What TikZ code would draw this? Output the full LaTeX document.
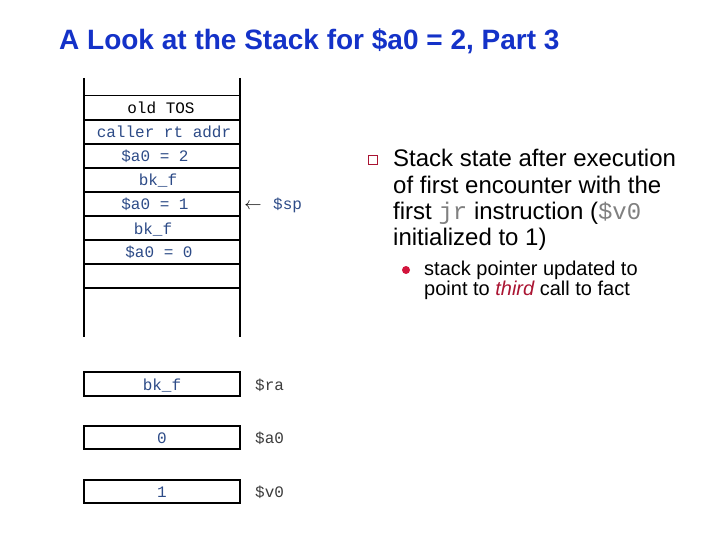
\documentclass[tikz,border=0pt]{standalone}
\usepackage{fontspec}
\setmainfont{Liberation Sans}
\setmonofont{Liberation Mono}
\definecolor{titleblue}{RGB}{20,50,200}
\definecolor{stackblue}{RGB}{45,75,135}
\definecolor{bulletred}{RGB}{170,20,50}
\definecolor{dotred}{RGB}{210,20,60}
\definecolor{reggray}{RGB}{60,60,60}
\tikzset{
  wall/.style={line width=1.5pt},
  cell/.style={font=\ttfamily\fontsize{16}{16}\selectfont, text=stackblue, anchor=base, inner sep=0pt},
  reglabel/.style={font=\ttfamily\fontsize{16}{16}\selectfont, text=reggray, anchor=base west, inner sep=0pt},
  bodytext/.style={font=\fontsize{24}{26}\selectfont, anchor=base west, inner sep=0pt, align=left},
  subtext/.style={font=\fontsize{20}{20}\selectfont, anchor=base west, inner sep=0pt, align=left}
}
\begin{document}
\begin{tikzpicture}[x=1pt,y=-1pt]
        \useasboundingbox (0,0) rectangle (720,540);
        \node[font=\bfseries\fontsize{28}{28}\selectfont, text=titleblue, anchor=base west, inner sep=0pt]
            (title) at (59,50) {A Look at the Stack for \$a0 = 2, Part 3};
        % the stack
        \draw[wall] (84,78) -- (84,337);
        \draw[wall] (240,78) -- (240,337);
        \foreach \y in {95.5,120,144,168,192,216,240,264,288}
            \draw[wall] (84,\y) -- (240,\y);
        \node[cell, text=black] (oldtos) at (161,114) {old TOS};
        \node[cell] (caller) at (164,138) {caller rt addr};
        \node[cell] (argtwo) at (155,162) {\$a0 = 2};
        \node[cell] (bkone) at (158,186) {bk\_f};
        \node[cell] (argone) at (155,210) {\$a0 = 1};
        \node[cell] (bktwo) at (153,234) {bk\_f};
        \node[cell] (argzero) at (159,258) {\$a0 = 0};
        \node[font=\fontsize{16}{16}\selectfont, anchor=base, inner sep=0pt] (sparrow) at (253,210) {$\leftarrow$};
        \node[cell, anchor=base west] (sp) at (273,210) {\$sp};
        % registers
        \draw[wall] (84,372) rectangle (240,396);
        \draw[wall] (84,426) rectangle (240,449);
        \draw[wall] (84,480) rectangle (240,503);
        \node[cell] (rabox) at (162,390) {bk\_f};
        \node[cell] (aobox) at (162,443) {0};
        \node[cell] (vobox) at (162,497) {1};
        \node[reglabel] (ra) at (255,390) {\$ra};
        \node[reglabel] (ao) at (255,443) {\$a0};
        \node[reglabel] (vo) at (255,497) {\$v0};
        % bullets
        \node[draw=bulletred, line width=1.3pt, minimum size=9pt, inner sep=0pt] (sqbullet) at (373,160) {};
        \node[bodytext] (state) at (393,245)
            {Stack state after execution\\of first encounter with the\\first \texttt{\color{gray}jr} instruction (\texttt{\color{gray}\$v0}\\initialized to 1)};
        \fill[dotred] (406,270) circle (4pt);
        \node[subtext] (pointer) at (424,295)
            {stack pointer updated to\\point to \textit{\color{bulletred}third} call to fact};
\end{tikzpicture}
\end{document}
